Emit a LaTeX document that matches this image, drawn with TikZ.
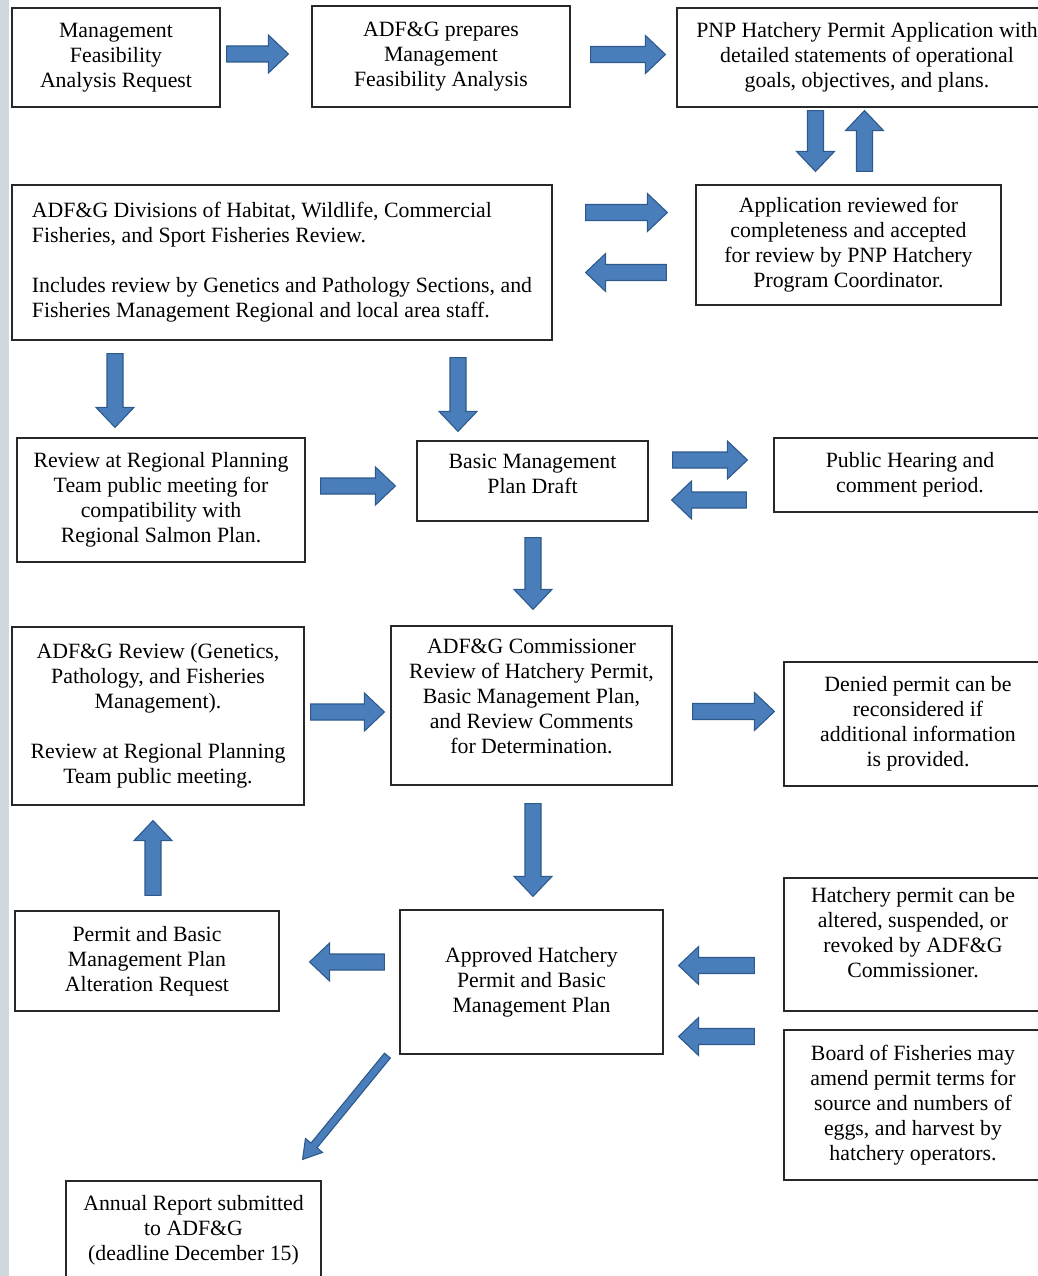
\documentclass[tikz,border=0pt]{standalone}
\usepackage{fontspec}
\setmainfont{Liberation Serif}
\usepackage{tikz}
\usepackage{xcolor}
\usetikzlibrary{calc}
\definecolor{arrowfill}{RGB}{74,126,187}
\definecolor{arrowline}{RGB}{45,90,140}
\definecolor{boxline}{RGB}{40,40,40}
\definecolor{sidestrip}{RGB}{207,216,220}
\tikzset{
    plain-box/.style = {draw=boxline, fill=white, line width=1.2pt, rectangle, inner sep=0pt, align=center, font=\fontsize{21.8pt}{25pt}\selectfont},
    block-arrow/.style n args = {3}{fill=arrowfill, draw=arrowline, line width=1.1pt, to path={
        (\tikztostart) coordinate (ba-s) (\tikztotarget) coordinate (ba-t)
        ($(ba-t)!#3!(ba-s)$) coordinate (ba-h)
        ($(ba-s)!#1!90:(ba-t)$) -- ($(ba-h)!#1!90:(ba-t)$) -- ($(ba-h)!#2!90:(ba-t)$) -- (ba-t)
        -- ($(ba-h)!#2!-90:(ba-t)$) -- ($(ba-h)!#1!-90:(ba-t)$) -- ($(ba-s)!#1!-90:(ba-t)$) -- cycle}},
    fat-arrow/.style = {block-arrow={8pt}{19pt}{20pt}},
    thin-arrow/.style = {block-arrow={3.8pt}{11pt}{18pt}},
}
\begin{document}
\begin{tikzpicture}[x=1pt, y=-1pt]
\useasboundingbox (0,0) rectangle (1037,1276);
\fill[white] (0,0) rectangle (1037,1276);
\fill[sidestrip] (0,0) rectangle (8.5,1276);

\node [plain-box, minimum width=208pt, minimum height=99pt] (request) at (116,57.5) {Management\\Feasibility\\Analysis Request};
\node [plain-box, minimum width=258pt, minimum height=101pt] (prepares) at (441,56.5) {ADF\&G prepares\\Management\\Feasibility Analysis};
\node [plain-box, minimum width=380pt, minimum height=99pt] (application) at (867,57.5) {PNP Hatchery Permit Application with\\detailed statements of operational\\goals, objectives, and plans.};
\node [plain-box, align=left, minimum width=540pt, minimum height=155pt] (divisions) at (282,262.5) {ADF\&G Divisions of Habitat, Wildlife, Commercial\\Fisheries, and Sport Fisheries Review.\\[25pt]Includes review by Genetics and Pathology Sections, and\\Fisheries Management Regional and local area staff.};
\node [plain-box, minimum width=305pt, minimum height=120pt] (accepted) at (848.5,245) {Application reviewed for\\completeness and accepted\\for review by PNP Hatchery\\Program Coordinator.};
\node [plain-box, minimum width=288pt, minimum height=124pt] (regional) at (161,500) {Review at Regional Planning\\Team public meeting for\\compatibility with\\Regional Salmon Plan.};
\node [plain-box, minimum width=231pt, minimum height=80pt, text depth=14.7pt] (draft) at (532.5,481) {Basic Management\\Plan Draft};
\node [plain-box, minimum width=272pt, minimum height=74pt] (hearing) at (910,475) {Public Hearing and\\comment period.};
\node [plain-box, minimum width=292pt, minimum height=178pt] (review) at (158,716) {ADF\&G Review (Genetics,\\Pathology, and Fisheries\\Management).\\[25pt]Review at Regional Planning\\Team public meeting.};
\node [plain-box, minimum width=281pt, minimum height=159pt, text depth=18.7pt] (commissioner) at (531.5,705.5) {ADF\&G Commissioner\\Review of Hatchery Permit,\\Basic Management Plan,\\and Review Comments\\for Determination.};
\node [plain-box, minimum width=268pt, minimum height=124pt] (denied) at (918,724) {Denied permit can be\\reconsidered if\\additional information\\is provided.};
\node [plain-box, minimum width=263pt, minimum height=144pt] (approved) at (531.5,982) {Approved Hatchery\\Permit and Basic\\Management Plan};
\node [plain-box, minimum width=264pt, minimum height=100pt] (alteration) at (147,961) {Permit and Basic\\Management Plan\\Alteration Request};
\node [plain-box, minimum width=258pt, minimum height=133pt, text depth=24.7pt] (altered) at (913,944.5) {Hatchery permit can be\\altered, suspended, or\\revoked by ADF\&G\\Commissioner.};
\node [plain-box, minimum width=258pt, minimum height=150pt] (board) at (913,1105) {Board of Fisheries may\\amend permit terms for\\source and numbers of\\eggs, and harvest by\\hatchery operators.};
\node [plain-box, minimum width=255pt, minimum height=98pt] (report) at (193.5,1230) {Annual Report submitted\\to ADF\&G\\(deadline December 15)};

\draw [fat-arrow] ([xshift=6pt, yshift=3.5pt]request.east) to ([xshift=-23pt, yshift=2.5pt]prepares.west);
\draw [fat-arrow] ([xshift=20pt, yshift=2pt]prepares.east) to ([xshift=-11pt, yshift=3pt]application.west);
\draw [fat-arrow] ([xshift=-51.5pt, yshift=-3pt]application.south) to ([xshift=-33pt, yshift=13pt]accepted.north);
\draw [fat-arrow] ([xshift=16pt, yshift=13pt]accepted.north) to ([xshift=-2.5pt, yshift=-3pt]application.south);
\draw [fat-arrow] ([xshift=33pt, yshift=50pt]divisions.east) to ([xshift=-28pt, yshift=32.5pt]accepted.west);
\draw [fat-arrow] ([xshift=-29pt, yshift=-27.5pt]accepted.west) to ([xshift=33pt, yshift=-10pt]divisions.east);
\draw [fat-arrow] ([xshift=-167pt, yshift=-13pt]divisions.south) to ([xshift=-46pt, yshift=10pt]regional.north);
\draw [fat-arrow] ([xshift=176pt, yshift=-17pt]divisions.south) to ([xshift=-74.5pt, yshift=9pt]draft.north);
\draw [fat-arrow] ([xshift=15pt, yshift=14pt]regional.east) to ([xshift=-21pt, yshift=-5pt]draft.west);
\draw [fat-arrow] ([xshift=24pt, yshift=21pt]draft.east) to ([xshift=-26pt, yshift=15pt]hearing.west);
\draw [fat-arrow] ([xshift=-27pt, yshift=-25pt]hearing.west) to ([xshift=23pt, yshift=-19pt]draft.east);
\draw [fat-arrow] ([xshift=0.5pt, yshift=-16pt]draft.south) to ([xshift=1.5pt, yshift=16pt]commissioner.north);
\draw [fat-arrow] ([xshift=6pt, yshift=4pt]review.east) to ([xshift=-6pt, yshift=-6.5pt]commissioner.west);
\draw [fat-arrow] ([xshift=20pt, yshift=-6pt]commissioner.east) to ([xshift=-9pt, yshift=12.5pt]denied.west);
\draw [fat-arrow] ([xshift=1.5pt, yshift=-18pt]commissioner.south) to ([xshift=1.5pt, yshift=13pt]approved.north);
\draw [fat-arrow] ([xshift=6pt, yshift=15pt]alteration.north) to ([xshift=-5pt, yshift=-15pt]review.south);
\draw [fat-arrow] ([xshift=-15pt, yshift=20pt]approved.west) to ([xshift=30pt, yshift=-1pt]alteration.east);
\draw [fat-arrow] ([xshift=-29pt, yshift=-21pt]altered.west) to ([xshift=15pt, yshift=16.5pt]approved.east);
\draw [fat-arrow] ([xshift=-29pt, yshift=68.5pt]board.west) to ([xshift=15pt, yshift=-54.5pt]approved.east);
\draw [thin-arrow] ([xshift=-12pt, yshift=-1pt]approved.south west) to ([xshift=-19pt, yshift=21pt]report.north east);
\end{tikzpicture}
\end{document}
